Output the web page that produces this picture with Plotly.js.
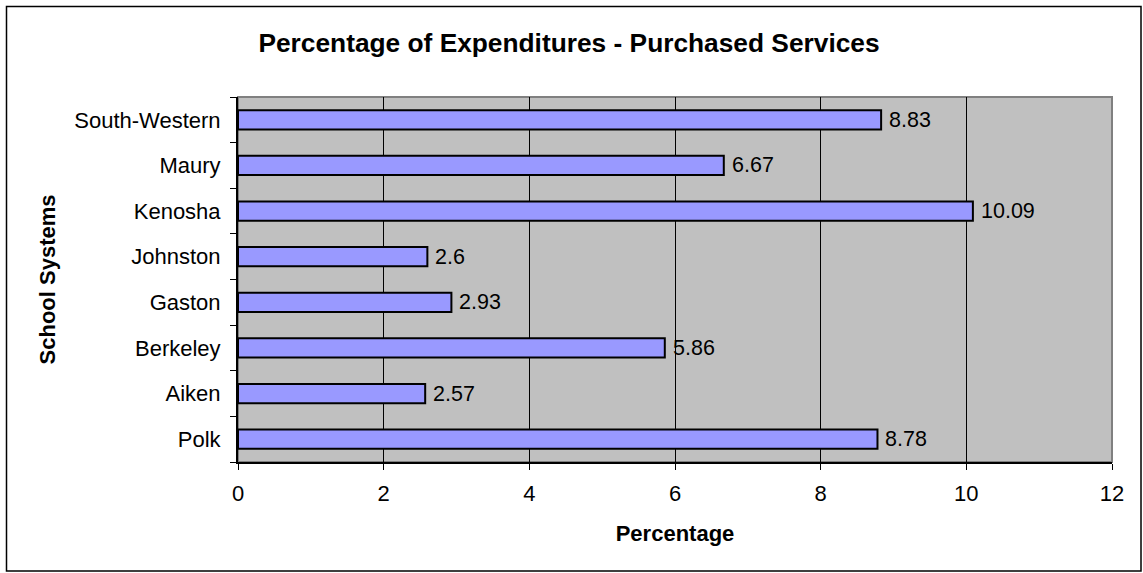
<!DOCTYPE html>
<html>
<head>
<meta charset="utf-8">
<script src="https://cdn.plot.ly/plotly-3.0.1.min.js"></script>
<style>
html,body{margin:0;padding:0;background:#fff;}
#chart{width:1143px;height:573px;}
</style>
</head>
<body>
<div id="chart"></div>
<script>
const categories = ["Polk", "Aiken", "Berkeley", "Gaston", "Johnston", "Kenosha", "Maury", "South-Western"];
const values = [8.78, 2.57, 5.86, 2.93, 2.6, 10.09, 6.67, 8.83];
const xTicks = [0, 2, 4, 6, 8, 10, 12];

const W = 1143, H = 573;
const L = 238, R = 31, T = 97, B = 111;
const pw = W - L - R, ph = H - T - B;
function px2x(p){ return (p - L) / pw; }
function py2y(p){ return (H - B - p) / ph; }
const FONT = 'Liberation Sans, Arial, sans-serif';

const trace = {
  type: 'bar',
  orientation: 'h',
  y: categories,
  x: values,
  marker: {color: '#9999FF', line: {color: '#000', width: 2}},
  hoverinfo: 'none'
};

const labels = values.map((v, i) => ({
  x: v, y: categories[i], xref: 'x', yref: 'y',
  text: String(v), showarrow: false,
  xanchor: 'left', yanchor: 'middle', xshift: 6,
  font: {family: FONT, size: 21.5, color: '#000'}
}));

const layout = {
  width: W, height: H,
  margin: {l: L, r: R, t: T, b: B, pad: 0},
  paper_bgcolor: '#fff',
  plot_bgcolor: '#C0C0C0',
  showlegend: false,
  bargap: 0.58,
  font: {family: FONT, size: 22, color: '#000'},
  title: {
    text: '<b>Percentage of Expenditures - Purchased Services</b>',
    font: {family: FONT, size: 26.3, color: '#000'},
    x: 569 / W, xref: 'container', xanchor: 'center',
    y: 1 - 43 / H, yref: 'container', yanchor: 'middle'
  },
  xaxis: {
    range: [0, 12],
    tickvals: xTicks,
    ticktext: xTicks.map(String),
    showgrid: true, gridcolor: '#000', gridwidth: 1,
    zeroline: false,
    showline: true, linecolor: '#000', linewidth: 2,
    ticks: 'outside', ticklen: 6, tickcolor: '#000', tickwidth: 1,
    ticklabelstandoff: 5,
    tickfont: {size: 22},
    title: {text: '<b>Percentage</b>', font: {size: 22}, standoff: 20},
    fixedrange: true
  },
  yaxis: {
    type: 'category',
    tickson: 'boundaries',
    showgrid: false,
    zeroline: false,
    showline: true, linecolor: '#000', linewidth: 2,
    ticks: 'outside', ticklen: 6, tickcolor: '#000', tickwidth: 1,
    ticklabelstandoff: 11,
    tickfont: {size: 22},
    title: {text: '<b>School Systems</b>', font: {size: 22}, standoff: 13},
    fixedrange: true
  },
  annotations: labels,
  shapes: [
    {type: 'rect', xref: 'x domain', yref: 'y domain', x0: 0, x1: 1, y0: 0, y1: 1,
     line: {color: '#808080', width: 2}, layer: 'below'},
    {type: 'rect', xref: 'paper', yref: 'paper',
     x0: px2x(6.5), x1: px2x(1141), y0: py2y(571), y1: py2y(6.5),
     line: {color: '#000', width: 1.5}, layer: 'above'}
  ]
};

Plotly.newPlot('chart', [trace], layout, {displayModeBar: false, staticPlot: true});
</script>
</body>
</html>
